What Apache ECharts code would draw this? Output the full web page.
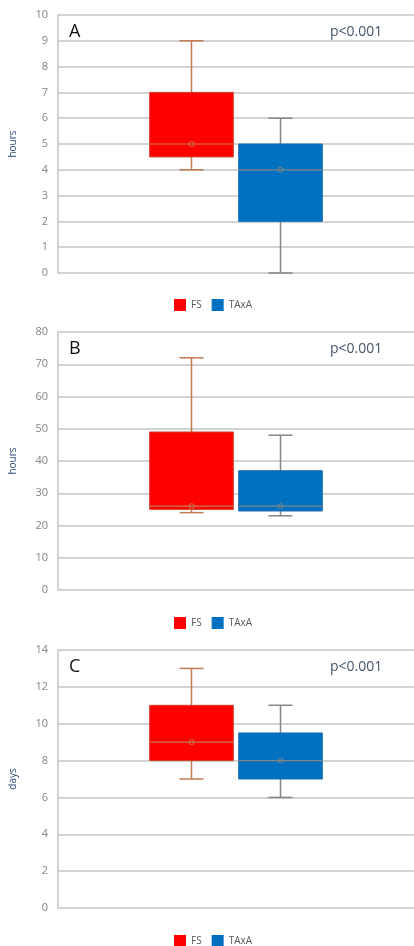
<!DOCTYPE html>
<html>
<head>
<meta charset="utf-8">
<script src="https://cdn.jsdelivr.net/npm/echarts@6/dist/echarts.min.js"></script>
<style>
  html, body { margin: 0; padding: 0; background: #fff; }
  #main { width: 414px; height: 946px; }
</style>
</head>
<body>
<div id="main"></div>
<script>
// categories along the hidden x axis (outer two are just padding)
var xCats = ['', 'FS', 'TAxA', ' '];
var groups = ['FS', 'TAxA'];
var panelLetters = ['A', 'B', 'C'];
var axisNames = ['hours', 'hours', 'days'];
var pTexts = ['p<0.001', 'p<0.001', 'p<0.001'];
var yMax = [10, 80, 14];
var yStep = [1, 10, 2];

// [min, q1, median, q3, max]
var fsA = [4, 4.5, 5, 7, 9];
var taxaA = [0, 2, 4, 5, 6];
var fsB = [24, 25, 26, 49, 72];
var taxaB = [23, 24.5, 26, 37, 48];
var fsC = [7, 8, 9, 11, 13];
var taxaC = [6, 7, 8, 9.5, 11];

var panelData = [[fsA, taxaA], [fsB, taxaB], [fsC, taxaC]];

var fillColors = { FS: '#ff0000', TAxA: '#0070c0' };
var lineColors = { FS: '#c27a52', TAxA: '#858585' };

var chartDom = document.getElementById('main');
var myChart = echarts.init(chartDom);

var gridTops = [15, 332, 650];
var gridHeight = 258;

function renderBox(params, api) {
  var x = api.value(0);
  var lo = api.coord([x, api.value(1)]);
  var q1 = api.coord([x, api.value(2)]);
  var med = api.coord([x, api.value(3)]);
  var q3 = api.coord([x, api.value(4)]);
  var hi = api.coord([x, api.value(5)]);
  var band = api.size([1, 0])[0];
  var half = band * 0.47;
  var cap = band * 0.135;
  var cx = lo[0];
  var name = params.seriesName;
  var lc = lineColors[name];
  var lineStyle = { stroke: lc, lineWidth: 1.5 };
  return {
    type: 'group',
    children: [
      { type: 'line', shape: { x1: cx, y1: hi[1], x2: cx, y2: lo[1] }, style: lineStyle },
      { type: 'line', shape: { x1: cx - cap, y1: hi[1], x2: cx + cap, y2: hi[1] }, style: lineStyle },
      { type: 'line', shape: { x1: cx - cap, y1: lo[1], x2: cx + cap, y2: lo[1] }, style: lineStyle },
      {
        type: 'rect',
        shape: { x: cx - half, y: q3[1], width: half * 2, height: q1[1] - q3[1] },
        style: { fill: fillColors[name], stroke: name === 'FS' ? '#d0402a' : '#1f6fb5', lineWidth: 1 }
      },
      { type: 'line', shape: { x1: cx - half, y1: med[1], x2: cx + half, y2: med[1] }, style: { stroke: lc, lineWidth: 1.2 } },
      { type: 'circle', shape: { cx: cx, cy: med[1], r: 2.5 }, style: { fill: 'none', stroke: lc, lineWidth: 1 } }
    ]
  };
}

var grids = [], xAxes = [], yAxes = [], series = [], titles = [], legends = [];
var legendTops = [294, 612, 930];

for (var i = 0; i < 3; i++) {
  grids.push({ left: 57, right: 0, top: gridTops[i], height: gridHeight });
  xAxes.push({
    type: 'category', gridIndex: i, data: xCats,
    axisLine: { show: false }, axisTick: { show: false }, axisLabel: { show: false }
  });
  yAxes.push({
    type: 'value', gridIndex: i, min: 0, max: yMax[i], interval: yStep[i],
    name: axisNames[i], nameLocation: 'middle', nameGap: 40, nameRotate: 90,
    nameTextStyle: { color: '#2e4a7d', fontSize: 10, fontFamily: 'Open Sans' },
    axisLine: { show: true, lineStyle: { color: '#c4c4c4', width: 1.5 } },
    axisTick: { show: false },
    axisLabel: { color: '#858585', fontSize: 11, margin: 10, fontFamily: 'Open Sans' },
    splitLine: { lineStyle: { color: '#c4c4c4', width: 1.5 } }
  });
  for (var g = 0; g < groups.length; g++) {
    series.push({
      name: groups[g],
      type: 'custom',
      xAxisIndex: i,
      yAxisIndex: i,
      renderItem: renderBox,
      itemStyle: { color: fillColors[groups[g]] },
      encode: { x: 0, y: [1, 2, 3, 4, 5] },
      data: [[groups[g]].concat(panelData[i][g])]
    });
  }
  titles.push({
    text: panelLetters[i], left: 64, top: gridTops[i] + 3,
    textStyle: { fontSize: 18, fontWeight: 'normal', color: '#111', fontFamily: 'Open Sans' }
  });
  titles.push({
    text: pTexts[i], left: 325, top: gridTops[i] + 5,
    textStyle: { fontSize: 14, fontWeight: 'normal', color: '#44546a', fontFamily: 'Open Sans' }
  });
  legends.push({
    data: groups, top: legendTops[i], left: 169,
    icon: 'rect', itemWidth: 12, itemHeight: 12, itemGap: 10,
    textStyle: { color: '#595959', fontSize: 10, fontFamily: 'Open Sans' }
  });
}

var option = {
  animation: false,
  title: titles,
  legend: legends,
  grid: grids,
  xAxis: xAxes,
  yAxis: yAxes,
  series: series
};

option && myChart.setOption(option);
</script>
</body>
</html>
